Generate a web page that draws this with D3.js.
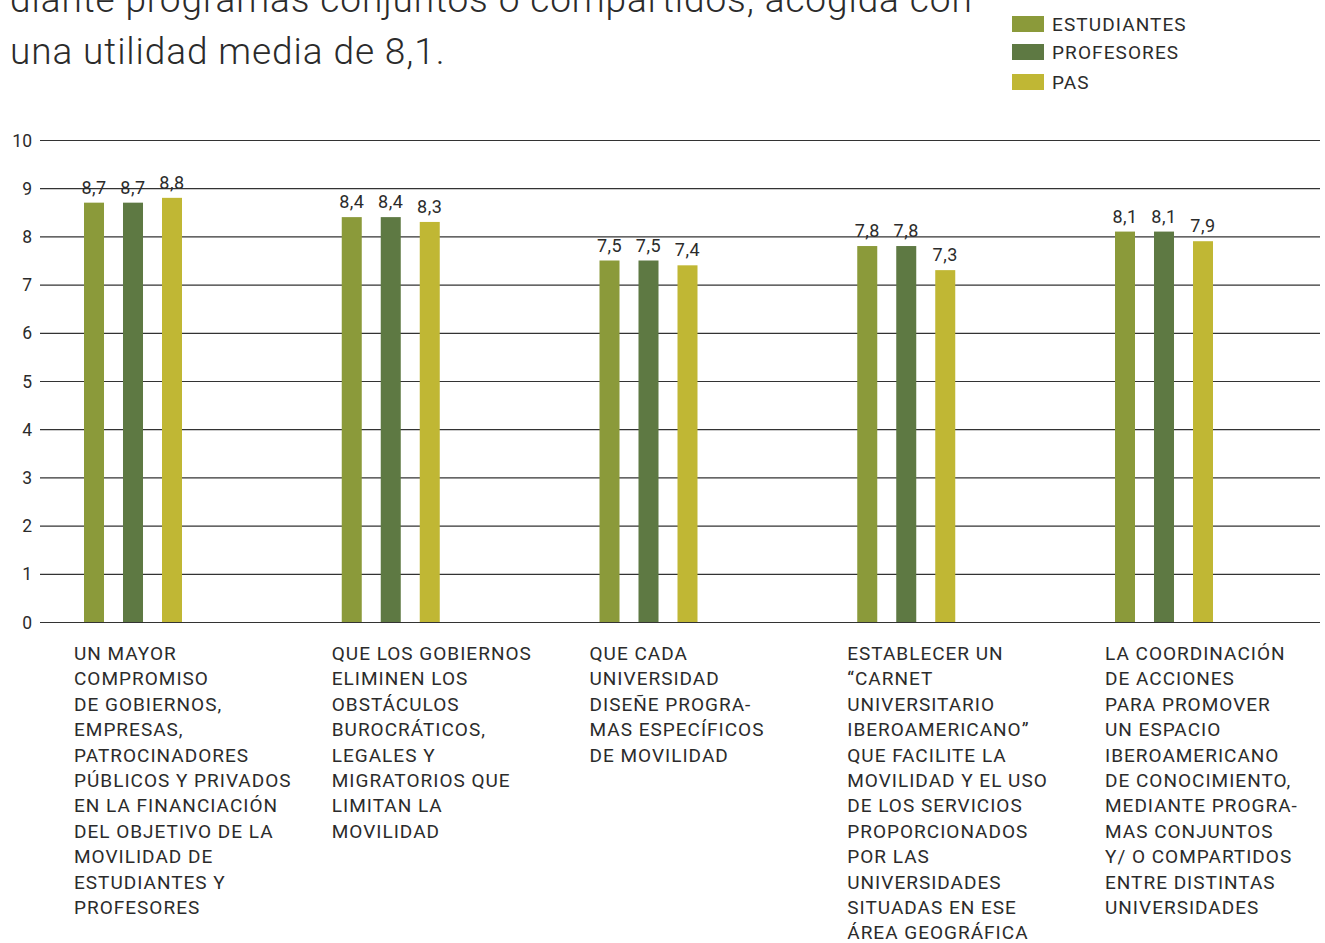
<!DOCTYPE html>
<html>
<head>
<meta charset="utf-8">
<script src="https://cdn.jsdelivr.net/npm/d3@7/dist/d3.min.js"></script>
<style>
  html, body { margin: 0; padding: 0; background: #fff; }
  svg { display: block; }
  text { font-family: "Roboto", "DejaVu Sans", sans-serif; fill: #2b2b2b; }
</style>
</head>
<body>
<svg id="chart" width="1325" height="943"></svg>
<script>
// Series names and colours
const series = ["ESTUDIANTES", "PROFESORES", "PAS"];
const seriesColors = ["#8b9a3a", "#5e7943", "#c0b734"];

// Category labels, already broken into lines
const categories = [
  ["UN MAYOR", "COMPROMISO", "DE GOBIERNOS,", "EMPRESAS,", "PATROCINADORES", "PÚBLICOS Y PRIVADOS", "EN LA FINANCIACIÓN", "DEL OBJETIVO DE LA", "MOVILIDAD DE", "ESTUDIANTES Y", "PROFESORES"],
  ["QUE LOS GOBIERNOS", "ELIMINEN LOS", "OBSTÁCULOS", "BUROCRÁTICOS,", "LEGALES Y", "MIGRATORIOS QUE", "LIMITAN LA", "MOVILIDAD"],
  ["QUE CADA", "UNIVERSIDAD", "DISEÑE PROGRA-", "MAS ESPECÍFICOS", "DE MOVILIDAD"],
  ["ESTABLECER UN", "“CARNET", "UNIVERSITARIO", "IBEROAMERICANO”", "QUE FACILITE LA", "MOVILIDAD Y EL USO", "DE LOS SERVICIOS", "PROPORCIONADOS", "POR LAS", "UNIVERSIDADES", "SITUADAS EN ESE", "ÁREA GEOGRÁFICA"],
  ["LA COORDINACIÓN", "DE ACCIONES", "PARA PROMOVER", "UN ESPACIO", "IBEROAMERICANO", "DE CONOCIMIENTO,", "MEDIANTE PROGRA-", "MAS CONJUNTOS", "Y/ O COMPARTIDOS", "ENTRE DISTINTAS", "UNIVERSIDADES"]
];

// Mean utility per category, one array per series
const estudiantes = [8.7, 8.4, 7.5, 7.8, 8.1];
const profesores  = [8.7, 8.4, 7.5, 7.8, 8.1];
const pas         = [8.8, 8.3, 7.4, 7.3, 7.9];

const yTicks = [0, 1, 2, 3, 4, 5, 6, 7, 8, 9, 10];

const titleLines = [
  "diante programas conjuntos o compartidos, acogida con",
  "una utilidad media de 8,1."
];

const values = [estudiantes, profesores, pas];
const catIds = categories.map((_, i) => i);

const svg = d3.select("#chart");

// Scales
const y = d3.scaleLinear().domain([0, 10]).range([622, 140]);
const x0 = d3.scaleBand().domain(catIds).range([84, 84 + 257.75 * 5]).padding(0);
const x1 = d3.scaleBand().domain(series).range([0, 98]).paddingInner(0.487).paddingOuter(0);
const color = d3.scaleOrdinal().domain(series).range(seriesColors);
const fmt = v => d3.format(".1f")(v).replace(".", ",");

// Title text (continues from above the visible area)
svg.append("g").selectAll("text")
  .data(titleLines)
  .join("text")
  .attr("x", 10)
  .attr("y", (d, i) => 12 + i * 52)
  .style("font-size", "37px")
  .style("font-weight", 300)
  .style("letter-spacing", "0.9px")
  .text(d => d);

// Legend
const legend = svg.append("g").selectAll("g")
  .data(series)
  .join("g")
  .attr("transform", (d, i) => `translate(1012, ${[16, 44, 74][i]})`);
legend.append("rect").attr("width", 32).attr("height", 16).attr("fill", d => color(d));
legend.append("text")
  .attr("x", 40).attr("y", 14.5)
  .style("font-size", "19px")
  .style("letter-spacing", "1.1px")
  .text(d => d);

// Horizontal grid and y axis labels
const yAxis = d3.axisLeft(y).tickValues(yTicks).tickSize(-1280).tickFormat(d3.format("d"));
const gAxis = svg.append("g").attr("transform", "translate(40,0)").call(yAxis);
gAxis.select(".domain").remove();
gAxis.selectAll(".tick line").attr("stroke", "#333").attr("stroke-width", 1.2);
gAxis.selectAll(".tick text")
  .attr("x", -8)
  .attr("dy", "0.35em")
  .style("font-size", "17.5px")
  .style("font-family", "Roboto, sans-serif")
  .attr("fill", "#2b2b2b");

// Bars
const groups = svg.append("g").selectAll("g")
  .data(catIds)
  .join("g")
  .attr("transform", c => `translate(${x0(c)},0)`);

const cells = groups.selectAll("g")
  .data(c => series.map((s, si) => ({ s, v: values[si][c] })))
  .join("g");

cells.append("rect")
  .attr("x", d => x1(d.s))
  .attr("width", x1.bandwidth())
  .attr("y", d => y(d.v))
  .attr("height", d => y(0) - y(d.v))
  .attr("fill", d => color(d.s));

cells.append("text")
  .attr("x", d => x1(d.s) + x1.bandwidth() / 2)
  .attr("y", d => y(d.v) - 9)
  .attr("text-anchor", "middle")
  .style("font-size", "18px")
  .style("letter-spacing", "0.5px")
  .text(d => fmt(d.v));

// Category labels under the axis
groups.append("text")
  .attr("x", -10)
  .attr("y", 660)
  .style("font-size", "19px")
  .style("letter-spacing", "1px")
  .selectAll("tspan")
  .data(c => categories[c])
  .join("tspan")
  .attr("x", -10)
  .attr("dy", (d, i) => i === 0 ? 0 : 25.4)
  .text(d => d);
</script>
</body>
</html>
